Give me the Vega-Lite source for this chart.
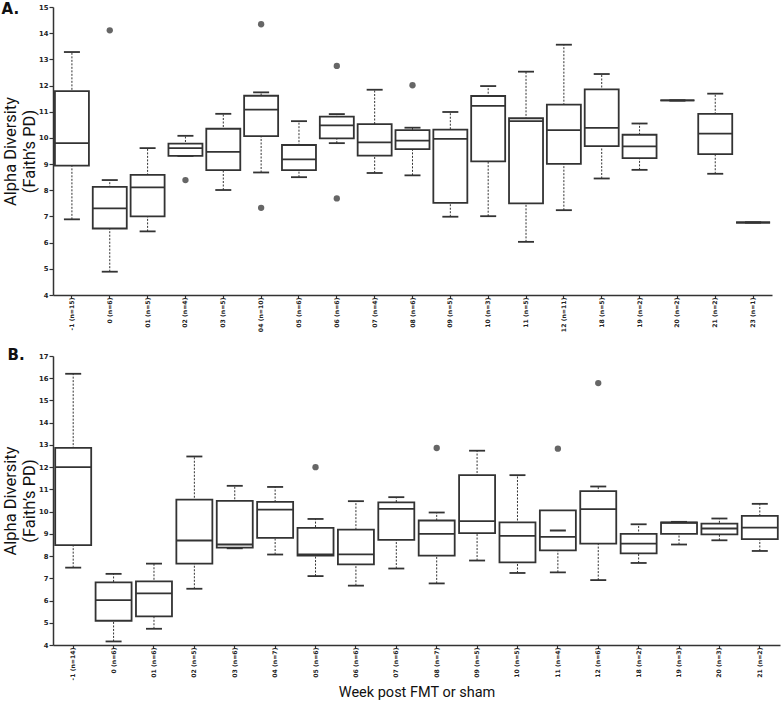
{
  "$schema": "https://vega.github.io/schema/vega-lite/v6.json",
  "background": "white",
  "padding": {"left": 1, "top": 2, "right": 1, "bottom": 2},
  "spacing": 16,
  "config": {
    "view": {"stroke": null},
    "tick": {"opacity": 1},
    "axis": {
      "domainColor": "#333333", "domainWidth": 1.5, "tickColor": "#333333", "tickWidth": 1.2,
      "labelFont": "DejaVu Sans", "labelFontWeight": "bold", "labelColor": "#222222", "grid": false,
      "titleFont": "Roboto", "titleFontWeight": "normal", "titleColor": "#111111"
    },
    "title": {"font": "DejaVu Sans", "fontWeight": "bold", "fontSize": 15, "color": "#111111"}
  },
  "datasets": {
    "boxA": [
      {"week": "-1 (n=15)", "lo": 6.89, "q1": 8.94, "med": 9.8, "q3": 11.79, "hi": 13.28},
      {"week": "0 (n=6)", "lo": 4.89, "q1": 6.54, "med": 7.31, "q3": 8.13, "hi": 8.39},
      {"week": "01 (n=5)", "lo": 6.43, "q1": 7.0, "med": 8.11, "q3": 8.59, "hi": 9.61},
      {"week": "02 (n=4)", "lo": 9.31, "q1": 9.31, "med": 9.61, "q3": 9.78, "hi": 10.08},
      {"week": "03 (n=5)", "lo": 8.01, "q1": 8.77, "med": 9.47, "q3": 10.35, "hi": 10.92},
      {"week": "04 (n=10)", "lo": 8.68, "q1": 10.07, "med": 11.08, "q3": 11.61, "hi": 11.74},
      {"week": "05 (n=6)", "lo": 8.5, "q1": 8.77, "med": 9.18, "q3": 9.73, "hi": 10.64},
      {"week": "06 (n=6)", "lo": 9.8, "q1": 9.98, "med": 10.48, "q3": 10.81, "hi": 10.91},
      {"week": "07 (n=4)", "lo": 8.66, "q1": 9.32, "med": 9.83, "q3": 10.53, "hi": 11.84},
      {"week": "08 (n=6)", "lo": 8.57, "q1": 9.57, "med": 9.9, "q3": 10.3, "hi": 10.39},
      {"week": "09 (n=5)", "lo": 6.99, "q1": 7.52, "med": 9.96, "q3": 10.32, "hi": 10.99},
      {"week": "10 (n=3)", "lo": 7.01, "q1": 9.1, "med": 11.22, "q3": 11.6, "hi": 11.98},
      {"week": "11 (n=5)", "lo": 6.03, "q1": 7.5, "med": 10.64, "q3": 10.75, "hi": 12.53},
      {"week": "12 (n=11)", "lo": 7.24, "q1": 9.01, "med": 10.3, "q3": 11.27, "hi": 13.56},
      {"week": "18 (n=5)", "lo": 8.45, "q1": 9.69, "med": 10.38, "q3": 11.85, "hi": 12.44},
      {"week": "19 (n=2)", "lo": 8.78, "q1": 9.23, "med": 9.68, "q3": 10.12, "hi": 10.55},
      {"week": "20 (n=2)", "lo": 11.43, "q1": 11.43, "med": 11.43, "q3": 11.43, "hi": 11.43},
      {"week": "21 (n=2)", "lo": 8.63, "q1": 9.38, "med": 10.16, "q3": 10.92, "hi": 11.69},
      {"week": "23 (n=1)", "lo": 6.77, "q1": 6.77, "med": 6.77, "q3": 6.77, "hi": 6.77}
    ],
    "outA": [
      {"week": "0 (n=6)", "value": 14.11},
      {"week": "02 (n=4)", "value": 8.39},
      {"week": "04 (n=10)", "value": 14.34},
      {"week": "04 (n=10)", "value": 7.33},
      {"week": "06 (n=6)", "value": 12.75},
      {"week": "06 (n=6)", "value": 7.69},
      {"week": "08 (n=6)", "value": 12.01}
    ],
    "boxB": [
      {"week": "-1 (n=14)", "lo": 7.48, "q1": 8.49, "med": 12.0, "q3": 12.87, "hi": 16.2},
      {"week": "0 (n=6)", "lo": 4.16, "q1": 5.09, "med": 6.02, "q3": 6.82, "hi": 7.2},
      {"week": "01 (n=6)", "lo": 4.73, "q1": 5.29, "med": 6.32, "q3": 6.86, "hi": 7.66},
      {"week": "02 (n=5)", "lo": 6.53, "q1": 7.66, "med": 8.7, "q3": 10.54, "hi": 12.48},
      {"week": "03 (n=6)", "lo": 8.35, "q1": 8.38, "med": 8.52, "q3": 10.48, "hi": 11.16},
      {"week": "04 (n=7)", "lo": 8.07, "q1": 8.82, "med": 10.09, "q3": 10.44, "hi": 11.11},
      {"week": "05 (n=6)", "lo": 7.1, "q1": 8.02, "med": 8.08, "q3": 9.27, "hi": 9.67},
      {"week": "06 (n=6)", "lo": 6.67, "q1": 7.63, "med": 8.08, "q3": 9.19, "hi": 10.47},
      {"week": "07 (n=6)", "lo": 7.44, "q1": 8.73, "med": 10.12, "q3": 10.42, "hi": 10.65},
      {"week": "08 (n=7)", "lo": 6.77, "q1": 8.02, "med": 9.0, "q3": 9.6, "hi": 9.96},
      {"week": "09 (n=5)", "lo": 7.8, "q1": 9.03, "med": 9.57, "q3": 11.64, "hi": 12.74},
      {"week": "10 (n=5)", "lo": 7.24, "q1": 7.72, "med": 8.91, "q3": 9.52, "hi": 11.64},
      {"week": "11 (n=4)", "lo": 7.27, "q1": 8.26, "med": 8.86, "q3": 10.06, "hi": 9.15},
      {"week": "12 (n=6)", "lo": 6.92, "q1": 8.56, "med": 10.11, "q3": 10.92, "hi": 11.13},
      {"week": "18 (n=2)", "lo": 7.69, "q1": 8.12, "med": 8.56, "q3": 9.0, "hi": 9.43},
      {"week": "19 (n=3)", "lo": 8.52, "q1": 9.0, "med": 9.5, "q3": 9.51, "hi": 9.54},
      {"week": "20 (n=3)", "lo": 8.71, "q1": 8.98, "med": 9.24, "q3": 9.46, "hi": 9.69},
      {"week": "21 (n=2)", "lo": 8.23, "q1": 8.76, "med": 9.28, "q3": 9.81, "hi": 10.35}
    ],
    "outB": [
      {"week": "05 (n=6)", "value": 12.0},
      {"week": "08 (n=7)", "value": 12.86},
      {"week": "11 (n=4)", "value": 12.83},
      {"week": "12 (n=6)", "value": 15.78}
    ]
  },
  "vconcat": [
    {
      "width": 719,
      "height": 288,
      "title": {"text": "A.", "anchor": "start", "frame": "bounds", "dy": 17, "dx": -1},
      "encoding": {
        "x": {
          "field": "week", "type": "nominal",
          "scale": {"domain": ["-1 (n=15)", "0 (n=6)", "01 (n=5)", "02 (n=4)", "03 (n=5)", "04 (n=10)", "05 (n=6)", "06 (n=6)", "07 (n=4)", "08 (n=6)", "09 (n=5)", "10 (n=3)", "11 (n=5)", "12 (n=11)", "18 (n=5)", "19 (n=2)", "20 (n=2)", "21 (n=2)", "23 (n=1)"], "paddingInner": 0, "paddingOuter": 0},
          "axis": {"title": null, "labelAngle": -90, "labelFontSize": 6.2, "tickSize": 3, "labelPadding": -1}
        }
      },
      "layer": [
        {
          "data": {"name": "boxA"},
          "mark": {"type": "rule", "strokeDash": [2, 1.5], "color": "#333333", "strokeWidth": 1},
          "encoding": {
            "y": {"type": "quantitative", "field": "lo", "scale": {"type": "linear", "domain": [4, 15], "nice": false, "zero": false},
              "axis": {"title": ["Alpha Diversity", "(Faith\u2019s PD)"], "tickCount": 11, "labelOverlap": false, "labelFontSize": 6.8, "tickSize": 4, "labelPadding": 1, "titleFontSize": 16.5, "titleLineHeight": 19, "titlePadding": 1}},
            "y2": {"field": "hi"}
          }
        },
        {
          "data": {"name": "boxA"},
          "mark": {"type": "bar", "size": 34, "fill": "white", "stroke": "#333333", "strokeWidth": 1.8},
          "encoding": {"y": {"field": "q1", "type": "quantitative"}, "y2": {"field": "q3"}}
        },
        {
          "data": {"name": "boxA"},
          "mark": {"type": "tick", "size": 34, "thickness": 1.8, "color": "#333333", "opacity": 1},
          "encoding": {"y": {"field": "med", "type": "quantitative"}}
        },
        {
          "data": {"name": "boxA"},
          "mark": {"type": "tick", "size": 16, "thickness": 1.8, "color": "#333333", "opacity": 1},
          "encoding": {"y": {"field": "hi", "type": "quantitative"}}
        },
        {
          "data": {"name": "boxA"},
          "mark": {"type": "tick", "size": 16, "thickness": 1.8, "color": "#333333", "opacity": 1},
          "encoding": {"y": {"field": "lo", "type": "quantitative"}}
        },
        {
          "data": {"name": "outA"},
          "mark": {"type": "circle", "size": 40, "color": "#666666", "opacity": 1},
          "encoding": {"y": {"field": "value", "type": "quantitative"}}
        }
      ]
    },
    {
      "width": 727,
      "height": 289,
      "title": {"text": "B.", "anchor": "start", "frame": "bounds", "dy": 14, "dx": 5},
      "encoding": {
        "x": {
          "field": "week", "type": "nominal",
          "scale": {"domain": ["-1 (n=14)", "0 (n=6)", "01 (n=6)", "02 (n=5)", "03 (n=6)", "04 (n=7)", "05 (n=6)", "06 (n=6)", "07 (n=6)", "08 (n=7)", "09 (n=5)", "10 (n=5)", "11 (n=4)", "12 (n=6)", "18 (n=2)", "19 (n=3)", "20 (n=3)", "21 (n=2)"], "paddingInner": 0, "paddingOuter": 0},
          "axis": {"title": "Week post FMT or sham", "titleFontSize": 14.5, "titlePadding": 6, "labelAngle": -90, "labelFontSize": 6.2, "tickSize": 3, "labelPadding": -1}
        }
      },
      "layer": [
        {
          "data": {"name": "boxB"},
          "mark": {"type": "rule", "strokeDash": [2, 1.5], "color": "#333333", "strokeWidth": 1},
          "encoding": {
            "y": {"type": "quantitative", "field": "lo", "scale": {"type": "linear", "domain": [4, 17], "nice": false, "zero": false},
              "axis": {"title": ["Alpha Diversity", "(Faith\u2019s PD)"], "tickCount": 13, "labelOverlap": false, "labelFontSize": 6.8, "tickSize": 4, "labelPadding": 1, "titleFontSize": 16.5, "titleLineHeight": 19, "titlePadding": 1}},
            "y2": {"field": "hi"}
          }
        },
        {
          "data": {"name": "boxB"},
          "mark": {"type": "bar", "size": 36, "fill": "white", "stroke": "#333333", "strokeWidth": 1.8},
          "encoding": {"y": {"field": "q1", "type": "quantitative"}, "y2": {"field": "q3"}}
        },
        {
          "data": {"name": "boxB"},
          "mark": {"type": "tick", "size": 36, "thickness": 1.8, "color": "#333333", "opacity": 1},
          "encoding": {"y": {"field": "med", "type": "quantitative"}}
        },
        {
          "data": {"name": "boxB"},
          "mark": {"type": "tick", "size": 16, "thickness": 1.8, "color": "#333333", "opacity": 1},
          "encoding": {"y": {"field": "hi", "type": "quantitative"}}
        },
        {
          "data": {"name": "boxB"},
          "mark": {"type": "tick", "size": 16, "thickness": 1.8, "color": "#333333", "opacity": 1},
          "encoding": {"y": {"field": "lo", "type": "quantitative"}}
        },
        {
          "data": {"name": "outB"},
          "mark": {"type": "circle", "size": 40, "color": "#666666", "opacity": 1},
          "encoding": {"y": {"field": "value", "type": "quantitative"}}
        }
      ]
    }
  ]
}
